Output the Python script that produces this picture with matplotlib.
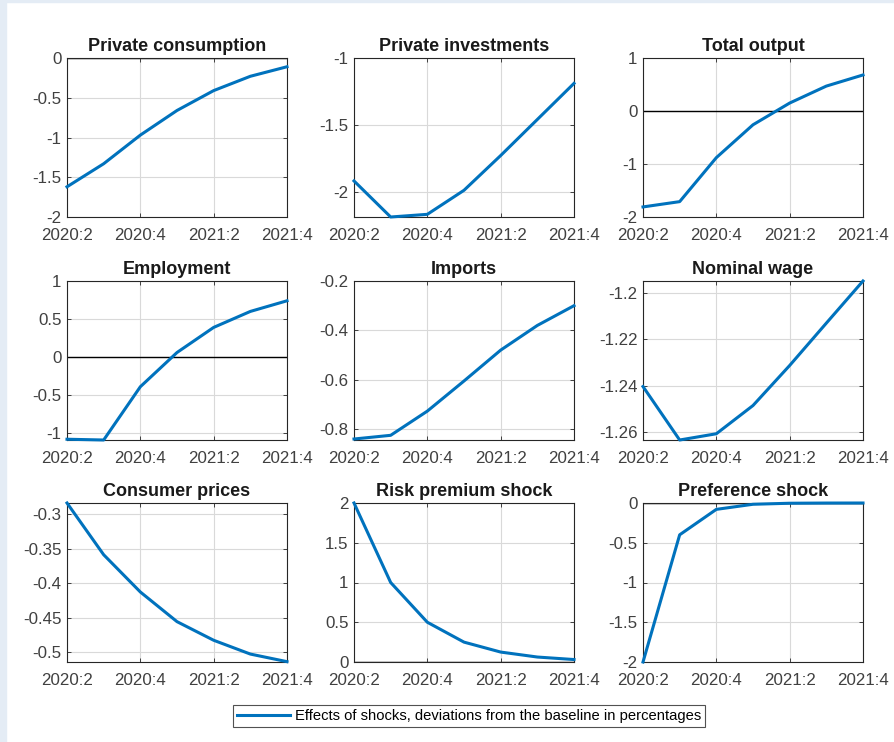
import matplotlib.pyplot as plt
from matplotlib.patches import Rectangle
from matplotlib.ticker import FormatStrFormatter

plt.rcParams["font.family"] = ["Liberation Sans", "DejaVu Sans"]

# quarters 2020:2 .. 2021:4
periods = ["2020:2", "2020:3", "2020:4", "2021:1", "2021:2", "2021:3", "2021:4"]
tick_labels = ["2020:2", "2020:4", "2021:2", "2021:4"]

titles = [
    "Private consumption", "Private investments", "Total output",
    "Employment", "Imports", "Nominal wage",
    "Consumer prices", "Risk premium shock", "Preference shock",
]

consumption = [-1.62, -1.33, -0.97, -0.66, -0.41, -0.23, -0.11]
investments = [-1.92, -2.19, -2.17, -1.99, -1.73, -1.46, -1.19]
output = [-1.81, -1.71, -0.88, -0.26, 0.15, 0.47, 0.68]
employment = [-1.08, -1.09, -0.39, 0.06, 0.39, 0.60, 0.74]
imports = [-0.84, -0.825, -0.727, -0.605, -0.48, -0.38, -0.30]
wage = [-1.2404, -1.2635, -1.2608, -1.2486, -1.2313, -1.213, -1.1948]
prices = [-0.284, -0.359, -0.413, -0.456, -0.483, -0.503, -0.514]
risk_premium = [2.0, 1.0, 0.5, 0.25, 0.125, 0.0625, 0.031]
preference = [-2.0, -0.4, -0.08, -0.016, -0.003, -0.0006, -0.0001]

series = [consumption, investments, output, employment, imports, wage,
          prices, risk_premium, preference]

ylims = [(-2, 0), (-2.19, -1), (-2, 1), (-1.09, 1), (-0.844, -0.2),
         (-1.2635, -1.1948), (-0.5145, -0.284), (0, 2), (-2, 0)]
yticks = [
    [-2, -1.5, -1, -0.5, 0], [-2, -1.5, -1], [-2, -1, 0, 1],
    [-1, -0.5, 0, 0.5, 1], [-0.8, -0.6, -0.4, -0.2],
    [-1.26, -1.24, -1.22, -1.2], [-0.5, -0.45, -0.4, -0.35, -0.3],
    [0, 0.5, 1, 1.5, 2], [-2, -1.5, -1, -0.5, 0],
]

W, H = 895, 742
fig = plt.figure(figsize=(W / 100, H / 100), dpi=100)

# light blue page edge on the left and top
fig.patches.append(Rectangle((0, 0), 6 / W, 1, transform=fig.transFigure,
                             color="#e4ecf5", zorder=-1))
fig.patches.append(Rectangle((0, 1 - 2 / H), 1, 2 / H, transform=fig.transFigure,
                             color="#e4ecf5", zorder=-1))

col_left = [67, 354, 643]
row_top = [58, 281, 503]
aw, ah = 220, 159

x = list(range(len(periods)))
frame_col = "#262626"
line = None

for i, (title, y) in enumerate(zip(titles, series)):
    r, c = divmod(i, 3)
    ax = fig.add_axes([col_left[c] / W, 1 - (row_top[r] + ah) / H, aw / W, ah / H])
    lo, hi = ylims[i]
    if lo <= 0 <= hi:
        ax.axhline(0, color="black", lw=1.0, zorder=2)
    line, = ax.plot(x, y, color="#0072BD", lw=2.2, zorder=3, clip_on=False)
    ax.set_xlim(0, 6)
    ax.set_ylim(lo, hi)
    ax.set_xticks([0, 2, 4, 6])
    ax.set_xticklabels(tick_labels)
    ax.set_yticks(yticks[i])
    ax.yaxis.set_major_formatter(FormatStrFormatter("%g"))
    ax.grid(True, color="#d9d9d9", lw=0.8)
    ax.set_axisbelow(True)
    ax.tick_params(direction="in", length=3, width=0.6, colors=frame_col,
                   labelsize=12.2, labelcolor="#404040", top=True, right=True,
                   pad=4)
    ax.tick_params(axis="x", pad=8)
    for s in ax.spines.values():
        s.set_color(frame_col)
        s.set_linewidth(0.8)
    ax.set_title(title, fontsize=13, fontweight="bold", color="#1a1a1a", pad=5)

leg = fig.legend([line], ["Effects of shocks, deviations from the baseline in percentages"],
                 loc="center", bbox_to_anchor=(469 / W, 1 - 716 / H),
                 fontsize=10.6, frameon=True, fancybox=False, handlelength=3.6,
                 handletextpad=0.3, borderpad=0.3, borderaxespad=0)
leg.get_frame().set_edgecolor(frame_col)
leg.get_frame().set_linewidth(0.8)

fig.savefig("out.png", dpi=100)
